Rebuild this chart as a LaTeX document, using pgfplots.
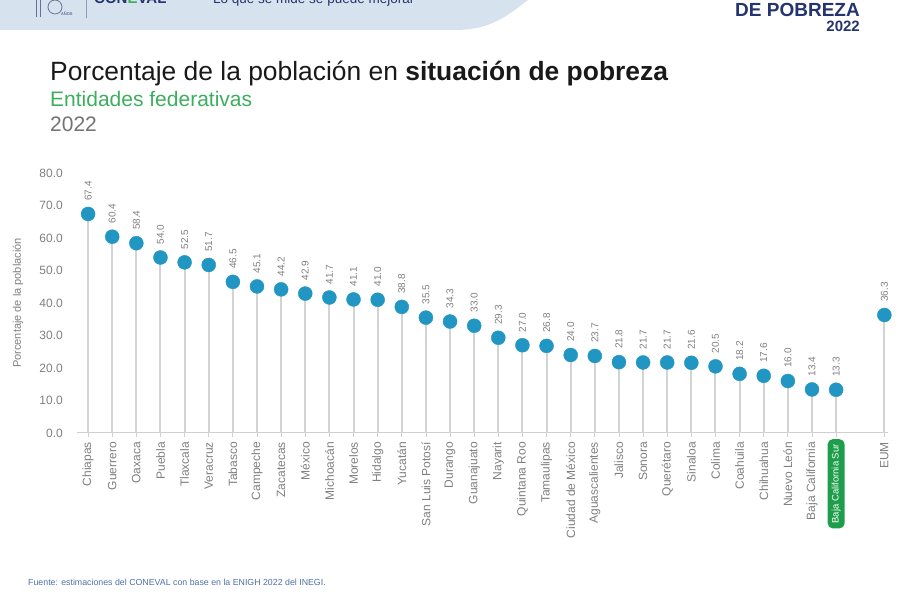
\documentclass[border=0pt]{standalone}
\usepackage{pgfplots}
\pgfplotsset{compat=1.18}
\usepackage{fontspec}
\setmainfont{Liberation Sans}
\definecolor{band}{HTML}{D6E3EE}
\definecolor{navy}{HTML}{24346E}
\definecolor{subgreen}{HTML}{3DAE5E}
\definecolor{bcsgreen}{HTML}{1E9E4A}
\definecolor{dot}{HTML}{2196C3}
\definecolor{stem}{HTML}{D3D3D3}
\definecolor{axisgray}{HTML}{CFCFCF}
\definecolor{lblgray}{HTML}{7F7F7F}
\definecolor{foot}{HTML}{4F6FA8}
\pgfplotstableread{
x y
0 67.4
1 60.4
2 58.4
3 54.0
4 52.5
5 51.7
6 46.5
7 45.1
8 44.2
9 42.9
10 41.7
11 41.1
12 41.0
13 38.8
14 35.5
15 34.3
16 33.0
17 29.3
18 27.0
19 26.8
20 24.0
21 23.7
22 21.8
23 21.7
24 21.7
25 21.6
26 20.5
27 18.2
28 17.6
29 16.0
30 13.4
31 13.3
33 36.3
}\datatable
\begin{document}
\begin{tikzpicture}[x=1pt,y=1pt]
\useasboundingbox (0,0) rectangle (905,613);
\clip (0,0) rectangle (905,613);
% header band
\fill[band] (0,583) -- (455,583) .. controls (492,583) and (508,598) .. (528,613) -- (0,613) -- cycle;
\draw[navy!70, line width=0.8pt] (36,596) -- (36,615);
\draw[navy!70, line width=0.8pt] (40,596) -- (40,615);
\draw[navy!70, line width=0.8pt] (55,606) circle (7);
\node[anchor=base west, inner sep=0pt, text=navy, font=\fontsize{4}{5}\selectfont] at (61,597) {AÑOS};
\draw[navy!50, line width=0.6pt] (86,595) -- (86,615);
\node[anchor=base west, inner sep=0pt, text=navy, font=\bfseries\fontsize{15}{18}\selectfont] at (94,609) {CON\textcolor{subgreen}{E}VAL};
\node[anchor=base west, inner sep=0pt, text=navy, font=\fontsize{13.5}{16}\selectfont] at (213,609) {Lo que se mide se puede mejorar};
\node[anchor=base east, inner sep=0pt, text=navy, font=\bfseries\fontsize{19}{22}\selectfont] at (860,596) {DE POBREZA};
\node[anchor=base east, inner sep=0pt, text=navy, font=\bfseries\fontsize{15}{17}\selectfont] at (860,581) {2022};
% titles
\node[anchor=base west, inner sep=0pt, text=black!90, font=\fontsize{26.4}{30}\selectfont] at (50,532) {Porcentaje de la población en \textbf{situación de pobreza}};
\node[anchor=base west, inner sep=0pt, text=subgreen, font=\fontsize{21}{24}\selectfont] at (50,506) {Entidades federativas};
\node[anchor=base west, inner sep=0pt, text=black!55, font=\fontsize{21}{24}\selectfont] at (50,481) {2022};
% footnote
\node[anchor=base west, inner sep=0pt, text=foot, font=\fontsize{8.8}{10}\selectfont] at (28,27) {Fuente: estimaciones del CONEVAL con base en la ENIGH 2022 del INEGI.};
\begin{axis}[
  at={(77pt,180pt)}, anchor=south west,
  scale only axis, width=811pt, height=260pt,
  xmin=-0.46, xmax=33.15, ymin=0, ymax=80,
  clip=false,
  /pgf/number format/assume math mode=true,
  axis x line=bottom, axis y line=left,
  x axis line style={-, draw=axisgray, line width=1pt},
  y axis line style={draw=none},
  ytick={0,10,...,80},
  ytick style={draw=none},
  yticklabel style={/pgf/number format/.cd, fixed, fixed zerofill, precision=1, /tikz/.cd, font=\fontsize{12}{14}\selectfont, text=lblgray, inner sep=0pt, xshift=-10pt},
  xtick={0,...,30,33},
  xticklabels={Chiapas,Guerrero,Oaxaca,Puebla,Tlaxcala,Veracruz,Tabasco,Campeche,Zacatecas,México,Michoacán,Morelos,Hidalgo,Yucatán,San Luis Potosí,Durango,Guanajuato,Nayarit,Quintana Roo,Tamaulipas,Ciudad de México,Aguascalientes,Jalisco,Sonora,Querétaro,Sinaloa,Colima,Coahuila,Chihuahua,Nuevo León,Baja California,EUM},
  xtick style={draw=axisgray, line width=0.8pt},
  tick align=outside, major tick length=4pt,
  xticklabel style={rotate=90, anchor=east, font=\fontsize{12}{14}\selectfont, text=lblgray, inner sep=0pt, xshift=-5pt},
  extra x ticks={31},
  extra x tick labels={Baja California Sur},
  extra x tick style={xticklabel style={fill=bcsgreen, text=white, rounded corners=5pt, inner xsep=5pt, inner ysep=4pt, font=\fontsize{9.5}{11}\selectfont, xshift=3pt}},
  ylabel={Porcentaje de la población},
  ylabel style={at={(axis description cs:-0.0727,0.5)}, anchor=center, font=\fontsize{11}{13}\selectfont, text=lblgray},
]
\addplot[ycomb, draw=stem, line width=2pt] table[x=x, y=y] {\datatable};
\addplot[only marks, mark=*, mark size=7pt, mark options={fill=dot, draw=dot},
  nodes near coords={\pgfmathprintnumber[fixed,fixed zerofill,precision=1]{\pgfplotspointmeta}},
  point meta=y,
  nodes near coords style={rotate=90, anchor=west, inner xsep=13pt, inner ysep=0pt, font=\fontsize{10}{12}\selectfont, text=lblgray}
] table[x=x, y=y] {\datatable};
\end{axis}
\end{tikzpicture}
\end{document}
